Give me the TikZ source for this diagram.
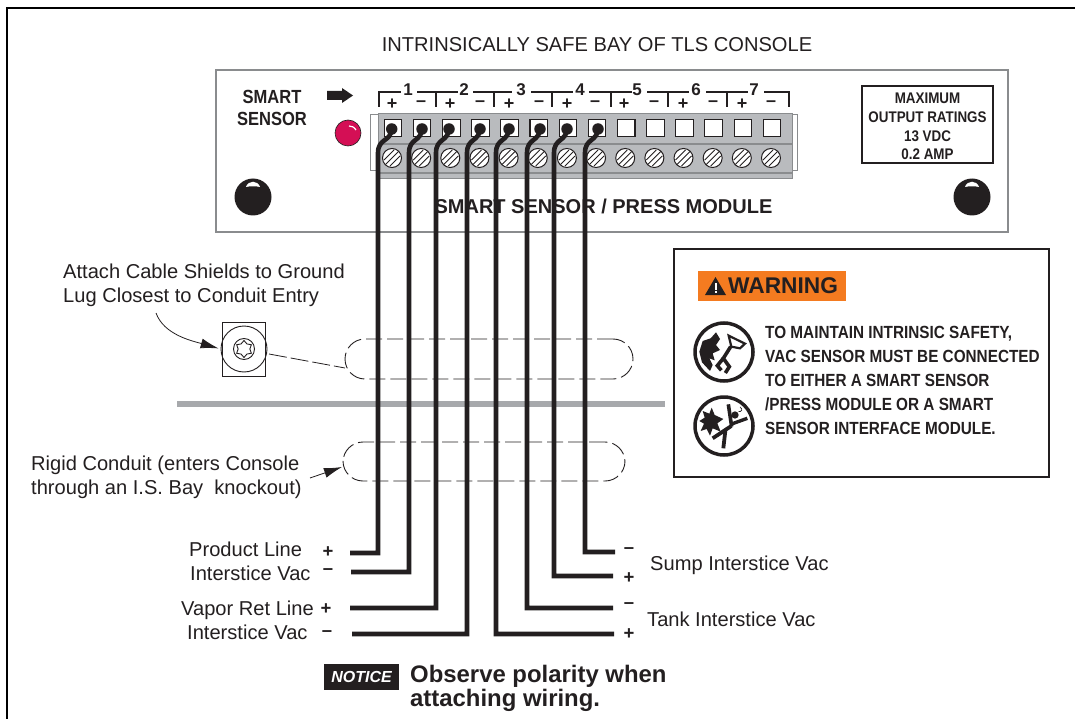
\documentclass[tikz,border=0pt]{standalone}
\usepackage{fontspec}
\setmainfont{Liberation Sans}
\newfontfamily\condfont[FakeStretch=0.87]{Liberation Sans}
\usetikzlibrary{arrows,arrows.meta,shapes}
\definecolor{inkblk}{HTML}{231F20}
\definecolor{panelgray}{HTML}{8A8C8E}
\definecolor{stripgray}{HTML}{B9BBBE}
\definecolor{bargray}{HTML}{A7A9AC}
\definecolor{warnorange}{HTML}{F47B20}
\definecolor{ledred}{HTML}{D40F55}
\tikzset{
    lbl/.style = {inner sep=0pt, text=inkblk, align=left, font=\fontsize{20.1}{24}\selectfont},
    sgn/.style = {inner sep=0pt, text=inkblk, font=\fontsize{18.5}{17}\selectfont\bfseries},
    tsgn/.style = {inner sep=0pt, text=inkblk, font=\fontsize{18}{20}\selectfont\bfseries},
    wire/.style = {draw=inkblk, line width=4.6pt, line join=miter},
    termsq/.style = {draw=inkblk, fill=white, line width=1.1pt, minimum size=17.5pt, inner sep=0pt},
    screw/.style = {draw=inkblk, fill=white, circle, line width=1pt, minimum size=19pt, inner sep=0pt},
    wiredot/.style = {fill=inkblk, circle, minimum size=11.5pt, inner sep=0pt},
    knob/.style = {fill=inkblk, circle, minimum size=37pt, inner sep=0pt},
    conduit/.style = {draw=inkblk, rectangle, rounded corners=20pt, line width=.9pt, dash pattern=on 16pt off 5pt, inner sep=0pt},
    brk/.style = {draw=inkblk, line width=1.6pt},
    pointer/.style = {draw=inkblk, line width=.8pt, -{Latex[length=18pt,width=10pt]}}
}
\def\glint{%
    +(-7,-10) .. controls +(2,-7) and +(-2,-7) .. +(7,-10) .. controls +(-4,-1) and +(4,-1) .. cycle
}
\begin{document}
\begin{tikzpicture}[x=1pt, y=-1pt, >=latex']
        \useasboundingbox (0,0) rectangle (1075,719);
        \draw [draw=black, line width=1.3pt] (1075,8) -- (7,8) -- (7,719);
        \node [lbl, name=title] at (597,44.5) {INTRINSICALLY SAFE BAY OF TLS CONSOLE};
        % module panel
        \node [draw=panelgray, line width=1.2pt, rectangle, minimum width=792pt, minimum height=162pt, name=panel] at (612,151) {};
        \node [lbl, align=center, font=\fontsize{19}{22}\selectfont\condfont\bfseries, name=smart] at (272,107.5) {SMART\\SENSOR};
        \fill [inkblk] (327,91) -- (342,91) -- (342,88) -- (353,95.5) -- (342,103) -- (342,100) -- (327,100) -- cycle;
        \node [fill=ledred, draw=inkblk, line width=.6pt, circle, minimum size=26pt, inner sep=0pt, name=led] at (348,133) {};
        \draw [white, line width=1.2pt] (349,126) .. controls (352,126) and (354,127) .. (356,130);
        \node [knob, name=knobl] at (253,197) {};
        \node [knob, name=knobr] at (972,197) {};
        \fill [white] (253,197) \glint;
        \fill [white] (972,197) \glint;
        \node [lbl, font=\fontsize{20}{24}\selectfont\bfseries, name=modlabel] at (603.5,206) {SMART SENSOR / PRESS MODULE};
        \node [draw=inkblk, line width=1.4pt, rectangle, minimum width=131pt, minimum height=77pt, name=ratingbox] at (927.5,124.5) {};
        \node [lbl, align=center, font=\fontsize{15.4}{18.6}\selectfont\condfont\bfseries, name=rating] at (927.5,126.5) {MAXIMUM\\OUTPUT RATINGS\\13 VDC\\0.2 AMP};
        % terminal strip
        \draw [draw=panelgray, fill=white, line width=1pt] (370,115) rectangle (378,171);
        \draw [draw=panelgray, fill=white, line width=1pt] (792,115) rectangle (797,171);
        \draw [draw=panelgray, fill=stripgray, line width=1pt] (378,114) rectangle (792,179);
        \draw [draw=panelgray, line width=1.2pt] (378,144) -- (792,144);
        \draw [draw=panelgray, line width=1.2pt] (378,173) -- (792,173);
        \foreach \i in {0,1,...,13}{
            \node [termsq, name=sq\i] at (393+29.15*\i,128) {};
            \node [screw, name=sc\i] at (392+29.15*\i,158) {};
            \draw [inkblk, line width=.9pt] (392+29.15*\i-6.5,158+6.5) -- (392+29.15*\i+6.5,158-6.5);
            \draw [inkblk, line width=.9pt] (392+29.15*\i-8,158+2) -- (392+29.15*\i+2,158-8);
            \draw [inkblk, line width=.9pt] (392+29.15*\i-2,158+8) -- (392+29.15*\i+8,158-2);
        }
        % bracket over the terminals
        \draw [brk] (379,107) -- (379,92) -- (401,92);
        \draw [brk] (789,107) -- (789,92) -- (764,92);
        \foreach \a/\b/\t in {417/458/436,473/512/494,531/573/552,589/632/611,647/689/668,706/748/727}{
            \draw [brk] (\a,92) -- (\b,92);
            \draw [brk] (\t,92) -- (\t,107);
        }
        \foreach \n/\p in {1/408,2/464,3/521,4/580,5/637,6/696,7/754}{
            \node [lbl, font=\fontsize{17}{18}\selectfont\bfseries, name=grp\n] at (\p,90) {\n};
        }
        \foreach \i/\p in {0/392,2/450,4/509,6/567,8/624,10/683,12/742}{
            \node [tsgn, name=pl\i] at (\p,104) {+};
        }
        \foreach \i/\p in {1/421,3/480,5/539,7/595,9/654,11/713,13/771}{
            \node [tsgn, name=mi\i] at (\p,104) {\textendash};
        }
        % conduits and partition
        \node [conduit, minimum width=288pt, minimum height=40pt, name=condtop] at (489,359) {};
        \node [conduit, minimum width=282pt, minimum height=39pt, name=condbot] at (484,461.5) {};
        \draw [draw=bargray, line width=6pt] (177,404) -- (665,404);
        % wires
        \foreach \i/\dx/\wx/\wy/\ex in {1/391.7/378/553/350,2/422/409/572/351,3/449/436/608/350,4/480/467/634/352,5/509/496/634/614,6/540/527/608/613,7/567/554/576/613,8/598/585/552/615}{
            \node [wiredot, name=dot\i] at (\dx,129) {};
            \coordinate (bend\i) at (\wx,153);
            \coordinate (turn\i) at (\wx,\wy);
            \coordinate (end\i) at (\ex,\wy);
            \draw [wire] (dot\i.center) .. controls +(-1,13) and +(0,-15) .. (bend\i) -- (turn\i) -- (end\i);
        }
        % ground lug
        \node [lbl, name=shieldnote, anchor=west] at (63,285.5) {Attach Cable Shields to Ground\\Lug Closest to Conduit Entry};
        \node [draw=inkblk, line width=.9pt, rectangle, minimum width=43pt, minimum height=54pt, name=lug] at (244,349) {};
        \node [draw=inkblk, line width=.9pt, circle, minimum size=46pt, inner sep=0pt, name=lugring] at (244,349) {};
        \node [draw=inkblk, line width=.9pt, circle, minimum size=21pt, inner sep=0pt, name=lughole] at (244,349) {};
        \node [draw=inkblk, line width=.9pt, star, star points=6, star point ratio=1.45, minimum size=17pt, inner sep=0pt, name=lugstar] at (244,349) {};
        \coordinate (shieldtail) at (156,313);
        \draw [pointer, shorten >=2pt] (shieldtail) .. controls +(8,22) and +(-28,-8) .. (lugring.west);
        \coordinate (lugtail) at (269,354);
        \coordinate (condhit) at (345,368);
        \draw [draw=inkblk, line width=.8pt, dash pattern=on 18pt off 4pt] (lugtail) -- (condhit);
        % rigid conduit note
        \node [lbl, name=rigidnote, anchor=west] at (31,477) {Rigid Conduit (enters Console\\through an I.S. Bay\ \ knockout)};
        \coordinate (rigidtail) at (310,478);
        \coordinate (rigidtip) at (342,467);
        \draw [pointer] (rigidtail) -- (rigidtip);
        % wire labels
        \node [lbl, name=prodline, anchor=west] at (189,549.5) {Product Line};
        \node [lbl, name=prodvac, anchor=west] at (190,573) {Interstice Vac};
        \node [lbl, name=vapline, anchor=west] at (181,610) {Vapor Ret Line};
        \node [lbl, name=vapvac, anchor=west] at (187,632) {Interstice Vac};
        \node [lbl, name=sumpvac, anchor=west] at (650,565.5) {Sump Interstice Vac};
        \node [lbl, name=tankvac, anchor=west] at (647,619.5) {Tank Interstice Vac};
        \node [sgn, name=sl1] at (328,552) {+};
        \node [sgn, name=sl2] at (328,572) {\textendash};
        \node [sgn, name=sl3] at (326,609) {+};
        \node [sgn, name=sl4] at (327,634) {\textendash};
        \node [sgn, name=sr1] at (629,551) {\textendash};
        \node [sgn, name=sr2] at (629,578) {+};
        \node [sgn, name=sr3] at (629,606) {\textendash};
        \node [sgn, name=sr4] at (629,634) {+};
        % notice
        \node [fill=inkblk, rectangle, minimum width=75pt, minimum height=26pt, inner sep=0pt, text=white, font=\fontsize{16}{18}\selectfont\bfseries\itshape, name=notice] at (361.5,677) {NOTICE};
        \node [lbl, font=\fontsize{23.9}{24}\selectfont\bfseries, name=noticetxt, anchor=west] at (410,688) {Observe polarity when\\attaching wiring.};
        % warning panel
        \node [draw=inkblk, line width=1.6pt, rectangle, minimum width=375pt, minimum height=228pt, name=warnbox] at (861.5,363) {};
        \node [fill=warnorange, rectangle, minimum width=148pt, minimum height=30pt, inner sep=0pt, name=warntag] at (772,286) {};
        \fill [inkblk] (715.5,277) -- (726,295) -- (705,295) -- cycle;
        \fill [white] (714.5,283) rectangle (716.5,289.5);
        \fill [white] (714.5,291) rectangle (716.5,293);
        \node [lbl, font=\fontsize{22.7}{24}\selectfont\bfseries, anchor=west, name=warnword] at (728,286) {WARNING};
        \node [lbl, font=\fontsize{17.6}{24}\selectfont\condfont\bfseries, anchor=west, name=warntxt] at (765,380) {TO MAINTAIN INTRINSIC SAFETY,\\VAC SENSOR MUST BE CONNECTED\\TO EITHER A SMART SENSOR\\/PRESS MODULE OR A SMART\\SENSOR INTERFACE MODULE.};
        \node [draw=inkblk, line width=3.5pt, circle, minimum size=58pt, inner sep=0pt, name=iconone] at (724,352) {};
        \node [draw=inkblk, line width=3.5pt, circle, minimum size=58pt, inner sep=0pt, name=icontwo] at (724,426) {};
        % hazard figures, drawn on a third of a pixel
        \begin{scope}[shift={(690,315)}, x=.3333pt, y=-.3333pt]
            \fill [inkblk] (78,52) -- (62,70) -- (38,78) -- (28,110) -- (36,142) -- (60,168) -- (68,150) -- (58,130) -- (74,136) -- (68,115) -- (90,105) -- (78,90) -- (90,72) -- cycle;
            \draw [inkblk, line width=3.6pt, line join=miter] (122,95) -- (100,130) -- (118,155) -- (106,174);
            \draw [inkblk, line width=3.6pt] (100,130) -- (82,152) -- (94,166);
            \draw [inkblk, line width=2.2pt] (116,62) -- (165,86) -- (150,100) -- (124,95) -- cycle;
            \fill [inkblk] (38,288) -- (58,296) -- (65,278) -- (74,300) -- (100,312) -- (82,325) -- (92,350) -- (68,340) -- (60,362) -- (50,342) -- (32,348) -- (42,326) -- (28,318) -- (44,308) -- cycle;
            \draw [inkblk, line width=3.6pt] (115,268) -- (125,335);
            \draw [inkblk, line width=3.4pt] (122,328) -- (172,310);
            \draw [inkblk, line width=3.8pt] (124,333) -- (68,370);
            \draw [inkblk, line width=3.8pt] (106,347) -- (100,400);
            \fill [inkblk] (135,300) circle (11);
            \draw [inkblk, line width=.7pt] (145,290) .. controls (155,292) and (160,282) .. (150,276);
        \end{scope}
\end{tikzpicture}
\end{document}
